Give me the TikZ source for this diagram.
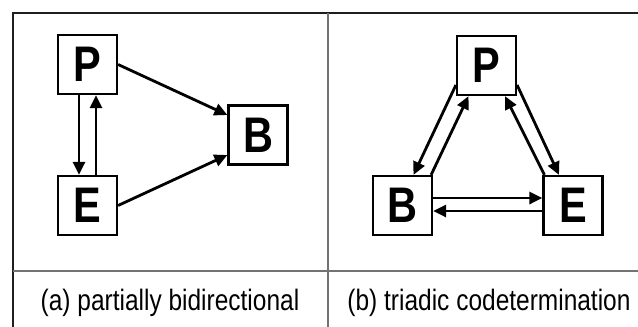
\documentclass[tikz,border=0pt]{standalone}
\usepackage{fontspec}
\setmainfont{Liberation Sans}[FakeStretch=0.83]
\usepackage{xcolor}
\definecolor{framecolour}{RGB}{30,30,30}
\definecolor{dividercolour}{RGB}{115,115,115}
\usetikzlibrary{arrows.meta}
\tikzstyle{factor} = [rectangle, minimum width=59pt, minimum height=59pt, inner sep=0pt, text centered, draw=black, line width=2.2pt, font=\fontsize{50}{50}\selectfont\bfseries]
\tikzstyle{caption} = [anchor=base, inner sep=0pt, font=\fontsize{29.5}{29.5}\selectfont]
\tikzstyle{arrow} = [line width=2.8pt, -{Triangle[length=13pt,width=12pt]}]
\tikzstyle{divider} = [dividercolour, line width=1.3pt]

\begin{document}
\begin{tikzpicture}[x=1pt, y=-1pt, node distance=141pt]
	\useasboundingbox (0,0) rectangle (638,327);
	\draw [framecolour, line width=2.2pt] (13,327) -- (13,13) -- (638,13);
	\draw [divider] (328,13) -- (328,327);
	\draw [divider] (13,271) -- (638,271);
	\node (p1) [factor] at (87.5,64.5) {P};
	\node (e1) [factor, below of=p1] {E};
	\node (b1) [factor] at (258,135) {B};
	\draw [arrow] ([xshift=-8.5pt]p1.south) -- ([xshift=-8.5pt]e1.north);
	\draw [arrow] ([xshift=8.5pt]e1.north) -- ([xshift=8.5pt]p1.south);
	\draw [arrow] (p1.east) -- ([yshift=20pt]b1.west);
	\draw [arrow] (e1.east) -- ([yshift=-20pt]b1.west);
	\node (p2) [factor] at (486.5,65.5) {P};
	\node (b2) [factor] at (402.5,205.5) {B};
	\node (e2) [factor] at (573,205.5) {E};
	\draw [arrow] ([yshift=-19.5pt]p2.west) -- ([xshift=11pt]b2.north);
	\draw [arrow] ([xshift=-2pt]b2.north east) -- ([xshift=-18pt]p2.south);
	\draw [arrow] ([yshift=-19.5pt]p2.east) -- ([xshift=-14pt]e2.north);
	\draw [arrow] ([xshift=2pt]e2.north west) -- ([xshift=18.5pt]p2.south);
	\draw [arrow] ([yshift=7.5pt]b2.east) -- ([yshift=7.5pt]e2.west);
	\draw [arrow] ([yshift=-5.5pt]e2.west) -- ([yshift=-5.5pt]b2.east);
	\node (capa) [caption] at (170,310) {(a) partially bidirectional};
	\node (capb) [caption] at (489,310) {(b) triadic codetermination};
\end{tikzpicture}
\end{document}
